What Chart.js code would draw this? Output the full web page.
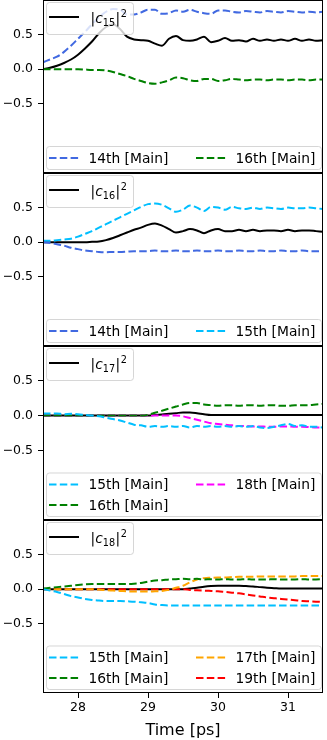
<!DOCTYPE html>
<html>
<head>
<meta charset="utf-8">
<script src="https://cdn.jsdelivr.net/npm/chart.js@4.4.1/dist/chart.umd.min.js"></script>
<style>
  body { margin: 0; background: #fff; width: 327px; height: 740px; position: relative; overflow: hidden; }
  canvas { position: absolute; left: 0; }
</style>
</head>
<body>
<canvas id="p1" width="327" height="173" style="top:0px"></canvas>
<canvas id="p2" width="327" height="173" style="top:173px"></canvas>
<canvas id="p3" width="327" height="174" style="top:346px"></canvas>
<canvas id="p4" width="327" height="220" style="top:520px"></canvas>
<script>
// time axis (ps)
const times = [27.5, 27.6, 27.7, 27.8, 27.9, 28.0, 28.1, 28.2, 28.3, 28.4,
  28.5, 28.6, 28.7, 28.8, 28.9, 29.0, 29.1, 29.2, 29.3, 29.4,
  29.5, 29.6, 29.7, 29.8, 29.9, 30.0, 30.1, 30.2, 30.3, 30.4,
  30.5, 30.6, 30.7, 30.8, 30.9, 31.0, 31.1, 31.2, 31.3, 31.4, 31.5];

const xTicks = [28, 29, 30, 31];
const yTicks = [-0.5, 0.0, 0.5];

// panel 1: |c15|^2
const c15 = [0.00, 0.02, 0.05, 0.09, 0.14, 0.21, 0.30, 0.40, 0.52, 0.61,
  0.65, 0.58, 0.47, 0.43, 0.42, 0.41, 0.37, 0.34, 0.44, 0.48,
  0.42, 0.41, 0.43, 0.47, 0.39, 0.41, 0.45, 0.41, 0.42, 0.40,
  0.44, 0.41, 0.43, 0.41, 0.43, 0.41, 0.44, 0.41, 0.43, 0.41, 0.42];
const p1_14th = [0.10, 0.14, 0.18, 0.25, 0.34, 0.44, 0.54, 0.65, 0.75, 0.83,
  0.87, 0.86, 0.79, 0.79, 0.82, 0.86, 0.86, 0.80, 0.81, 0.85,
  0.83, 0.86, 0.83, 0.81, 0.80, 0.85, 0.85, 0.83, 0.82, 0.84,
  0.83, 0.82, 0.84, 0.83, 0.82, 0.84, 0.83, 0.82, 0.83, 0.82, 0.83];
const p1_16th = [0.00, 0.00, 0.00, 0.00, 0.00, 0.00, -0.005, -0.01, -0.01, -0.02,
  -0.04, -0.07, -0.10, -0.14, -0.17, -0.20, -0.21, -0.19, -0.16, -0.12,
  -0.13, -0.16, -0.17, -0.14, -0.14, -0.17, -0.16, -0.14, -0.15, -0.16,
  -0.15, -0.15, -0.16, -0.15, -0.15, -0.16, -0.15, -0.15, -0.16, -0.15, -0.15];

// panel 2: |c16|^2
const c16 = [0.00, 0.00, 0.00, 0.00, 0.00, 0.00, 0.00, 0.005, 0.01, 0.03,
  0.06, 0.10, 0.14, 0.18, 0.21, 0.25, 0.27, 0.24, 0.19, 0.14,
  0.16, 0.19, 0.17, 0.13, 0.17, 0.19, 0.16, 0.16, 0.18, 0.16,
  0.18, 0.16, 0.17, 0.17, 0.16, 0.18, 0.16, 0.17, 0.17, 0.16, 0.15];
const p2_14th = [0.00, -0.01, -0.03, -0.05, -0.08, -0.10, -0.12, -0.13, -0.14, -0.145,
  -0.14, -0.14, -0.135, -0.13, -0.13, -0.13, -0.12, -0.13, -0.13, -0.12,
  -0.13, -0.13, -0.12, -0.13, -0.13, -0.12, -0.13, -0.13, -0.12, -0.13,
  -0.13, -0.12, -0.13, -0.13, -0.12, -0.13, -0.13, -0.12, -0.13, -0.13, -0.13];
const p2_15th = [0.02, 0.02, 0.03, 0.04, 0.05, 0.08, 0.12, 0.16, 0.21, 0.26,
  0.31, 0.36, 0.41, 0.46, 0.51, 0.55, 0.56, 0.54, 0.49, 0.44,
  0.47, 0.53, 0.50, 0.45, 0.51, 0.50, 0.47, 0.51, 0.49, 0.48,
  0.50, 0.48, 0.50, 0.49, 0.48, 0.50, 0.49, 0.49, 0.50, 0.49, 0.48];

// panel 3: |c17|^2
const c17 = [0.00, 0.00, 0.00, 0.00, 0.00, 0.00, 0.00, 0.00, 0.00, 0.00,
  0.00, 0.00, 0.00, 0.00, 0.00, 0.00, 0.01, 0.015, 0.025, 0.035,
  0.045, 0.045, 0.035, 0.02, 0.01, 0.01, 0.01, 0.01, 0.01, 0.01,
  0.01, 0.01, 0.01, 0.01, 0.01, 0.01, 0.01, 0.01, 0.01, 0.01, 0.01];
const p3_15th = [0.03, 0.03, 0.03, 0.02, 0.025, 0.02, 0.01, 0.00, -0.01, -0.03,
  -0.05, -0.07, -0.10, -0.13, -0.14, -0.16, -0.15, -0.16, -0.15, -0.16,
  -0.15, -0.17, -0.15, -0.16, -0.15, -0.16, -0.15, -0.16, -0.15, -0.16,
  -0.15, -0.17, -0.18, -0.16, -0.14, -0.12, -0.15, -0.14, -0.16, -0.16, -0.17];
const p3_16th = [0.00, 0.00, 0.00, 0.00, 0.00, 0.00, 0.00, 0.00, 0.00, 0.00,
  0.00, 0.00, 0.00, 0.00, 0.00, 0.01, 0.04, 0.07, 0.10, 0.13,
  0.16, 0.18, 0.18, 0.16, 0.15, 0.14, 0.15, 0.15, 0.14, 0.15,
  0.15, 0.14, 0.15, 0.15, 0.14, 0.14, 0.15, 0.15, 0.15, 0.16, 0.17];
const p3_18th = [0.00, 0.00, 0.00, 0.00, 0.00, 0.00, 0.00, 0.00, 0.00, 0.00,
  0.00, 0.00, 0.00, 0.00, 0.00, 0.00, 0.00, 0.00, 0.00, 0.00,
  -0.01, -0.035, -0.06, -0.085, -0.11, -0.12, -0.13, -0.14, -0.15, -0.15,
  -0.155, -0.155, -0.16, -0.16, -0.155, -0.155, -0.16, -0.16, -0.165, -0.17, -0.17];

// panel 4: |c18|^2
const c18 = [0.00, 0.00, 0.00, 0.00, 0.00, 0.00, 0.00, 0.00, 0.00, 0.00,
  0.00, 0.00, 0.00, 0.00, 0.00, 0.00, 0.00, 0.00, 0.00, 0.00,
  0.00, 0.01, 0.02, 0.035, 0.045, 0.05, 0.05, 0.05, 0.05, 0.045,
  0.04, 0.03, 0.02, 0.015, 0.01, 0.01, 0.01, 0.01, 0.01, 0.01, 0.01];
const p4_15th = [0.00, -0.02, -0.04, -0.07, -0.10, -0.12, -0.14, -0.155, -0.165, -0.17,
  -0.17, -0.17, -0.175, -0.18, -0.19, -0.20, -0.22, -0.23, -0.235, -0.235,
  -0.235, -0.235, -0.235, -0.235, -0.235, -0.235, -0.235, -0.235, -0.235, -0.235,
  -0.235, -0.235, -0.235, -0.235, -0.235, -0.235, -0.235, -0.235, -0.235, -0.235, -0.235];
const p4_16th = [0.01, 0.02, 0.03, 0.04, 0.05, 0.06, 0.07, 0.075, 0.075, 0.075,
  0.075, 0.075, 0.075, 0.08, 0.09, 0.11, 0.125, 0.13, 0.14, 0.145,
  0.15, 0.145, 0.15, 0.14, 0.145, 0.14, 0.145, 0.14, 0.14, 0.145,
  0.14, 0.14, 0.14, 0.145, 0.14, 0.14, 0.14, 0.145, 0.14, 0.14, 0.145];
const p4_17th = [0.00, 0.00, 0.00, 0.00, 0.00, 0.00, 0.00, 0.00, -0.005, -0.015,
  -0.02, -0.025, -0.03, -0.035, -0.035, -0.035, -0.03, -0.025, -0.01, 0.02,
  0.05, 0.10, 0.14, 0.16, 0.165, 0.17, 0.17, 0.175, 0.18, 0.18,
  0.18, 0.185, 0.185, 0.185, 0.185, 0.185, 0.185, 0.19, 0.19, 0.19, 0.19];
const p4_19th = [0.00, 0.00, 0.00, 0.00, 0.00, 0.00, 0.00, 0.00, 0.00, 0.00,
  0.00, 0.00, 0.00, 0.00, 0.00, 0.00, 0.00, 0.00, 0.00, 0.00,
  0.00, -0.01, -0.015, -0.02, -0.025, -0.03, -0.04, -0.05, -0.06, -0.075,
  -0.09, -0.105, -0.12, -0.13, -0.14, -0.15, -0.16, -0.17, -0.175, -0.18, -0.185];

const levelColors = {
  '14th [Main]': '#4169e1',
  '15th [Main]': '#00bfff',
  '16th [Main]': '#008000',
  '17th [Main]': '#ffa500',
  '18th [Main]': '#ff00ff',
  '19th [Main]': '#ff0000'
};

const panels = [
  { canvas: 'p1', state: 15, main: c15, levels: [['14th [Main]', p1_14th], ['16th [Main]', p1_16th]] },
  { canvas: 'p2', state: 16, main: c16, levels: [['14th [Main]', p2_14th], ['15th [Main]', p2_15th]] },
  { canvas: 'p3', state: 17, main: c17, levels: [['15th [Main]', p3_15th], ['16th [Main]', p3_16th], ['18th [Main]', p3_18th]] },
  { canvas: 'p4', state: 18, main: c18, levels: [['15th [Main]', p4_15th], ['16th [Main]', p4_16th], ['17th [Main]', p4_17th], ['19th [Main]', p4_19th]] }
];

const DASH = [7.5, 3.3];
const FONT = '"DejaVu Sans", sans-serif';
Chart.defaults.font.family = FONT;
Chart.defaults.color = '#000';

function toPoints(values) {
  return values.map((v, i) => ({ x: times[i], y: v }));
}

function legendBox(ctx, x, y, w, h) {
  ctx.save();
  ctx.beginPath();
  ctx.roundRect(x + 0.5, y + 0.5, w, h, 3);
  ctx.fillStyle = 'rgba(255,255,255,0.8)';
  ctx.fill();
  ctx.strokeStyle = 'rgba(204,204,204,0.8)';
  ctx.lineWidth = 1;
  ctx.stroke();
  ctx.restore();
}

function legendHandle(ctx, x, y, color, dash) {
  ctx.save();
  ctx.beginPath();
  ctx.setLineDash(dash);
  ctx.strokeStyle = color;
  ctx.lineWidth = 2;
  ctx.moveTo(x, y);
  ctx.lineTo(x + 30, y);
  ctx.stroke();
  ctx.restore();
}

// |c_n|^2 written the way mathtext sets it
function stateLabel(ctx, x, y, n) {
  ctx.save();
  ctx.fillStyle = '#000';
  ctx.textAlign = 'left';
  ctx.textBaseline = 'alphabetic';
  ctx.font = '13.8px ' + FONT;
  ctx.fillText('|', x, y);
  x += ctx.measureText('|').width;
  ctx.font = 'italic 13.8px ' + FONT;
  ctx.fillText('c', x, y);
  x += ctx.measureText('c').width;
  ctx.font = '9.7px ' + FONT;
  ctx.fillText(String(n), x, y + 2.5);
  x += ctx.measureText(String(n)).width + 0.5;
  ctx.font = '13.8px ' + FONT;
  ctx.fillText('|', x, y);
  x += ctx.measureText('|').width + 0.5;
  ctx.font = '9.7px ' + FONT;
  ctx.fillText('2', x, y - 6.5);
  ctx.restore();
}

const panelLegend = {
  id: 'panelLegend',
  afterDatasetsDraw(chart, args, opts) {
    const ctx = chart.ctx;
    const a = chart.chartArea;
    const top = a.top + 2;
    legendBox(ctx, 46, top, 87, 32);
    legendHandle(ctx, 49, top + 15, '#000', []);
    stateLabel(ctx, 90.5, top + 21, opts.state);

    const items = chart.data.datasets.filter(d => d.borderDash && d.borderDash.length);
    const rows = Math.ceil(items.length / 2);
    const h = 23 + (rows - 1) * 20.5;
    const by = a.bottom - 4 - h;
    legendBox(ctx, 46, by, 275, h);
    items.forEach((d, i) => {
      const col = Math.floor(i / rows);
      const row = i % rows;
      const y = by + 12 + row * 20.5;
      const x = col === 0 ? 49 : 196;
      legendHandle(ctx, x, y, d.borderColor, DASH);
      ctx.save();
      ctx.font = '13.8px ' + FONT;
      ctx.fillStyle = '#000';
      ctx.textAlign = 'left';
      ctx.textBaseline = 'middle';
      ctx.fillText(d.label, x + 39.5, y + 1);
      ctx.restore();
    });
  }
};

const frame = {
  id: 'frame',
  afterDraw(chart) {
    const ctx = chart.ctx;
    const a = chart.chartArea;
    ctx.save();
    ctx.strokeStyle = '#000';
    ctx.lineWidth = 1;
    ctx.strokeRect(a.left + 0.5, a.top + 0.5, a.right - a.left - 1, a.bottom - a.top - 1);
    ctx.restore();
  }
};

panels.forEach((p, idx) => {
  const last = idx === panels.length - 1;
  const datasets = p.levels.map(([label, vals]) => ({
    label: label,
    data: toPoints(vals),
    borderColor: levelColors[label],
    borderDash: DASH,
    borderWidth: 2,
    order: 0
  }));
  datasets.push({
    label: '|c' + p.state + '|²',
    data: toPoints(p.main),
    borderColor: '#000',
    borderWidth: 2,
    order: 1
  });

  new Chart(document.getElementById(p.canvas), {
    type: 'line',
    data: { datasets },
    options: {
      responsive: false,
      animation: false,
      devicePixelRatio: 1,
      layout: { padding: { left: 0, right: 4, top: 0, bottom: 0 } },
      elements: {
        point: { radius: 0 },
        line: { cubicInterpolationMode: 'monotone' }
      },
      plugins: {
        legend: { display: false },
        tooltip: { enabled: false },
        panelLegend: { state: p.state }
      },
      scales: {
        x: {
          type: 'linear',
          min: 27.5,
          max: 31.5,
          display: last,
          afterBuildTicks: s => { s.ticks = xTicks.map(v => ({ value: v })); },
          afterFit: s => { s.height = last ? 47 : 0; s.paddingLeft = 0; s.paddingRight = 0; },
          ticks: { font: { size: 12.5 }, color: '#000', padding: 2, maxRotation: 0, callback: v => String(v) },
          grid: { drawOnChartArea: false, drawTicks: true, tickLength: 5, color: '#000' },
          border: { display: false },
          title: { display: true, text: 'Time [ps]', color: '#000', font: { size: 16 }, padding: { top: 0, bottom: 0 } }
        },
        y: {
          min: -1.5,
          max: 1.0,
          afterBuildTicks: s => { s.ticks = yTicks.map(v => ({ value: v })); },
          afterFit: s => { s.width = 43; s.paddingTop = 0; s.paddingBottom = 0; },
          ticks: {
            font: { size: 12.5 },
            color: '#000',
            padding: 5,
            callback: v => (v < 0 ? '\u2212' : '') + Math.abs(v).toFixed(1)
          },
          grid: { drawOnChartArea: false, drawTicks: true, tickLength: 5, color: '#000' },
          border: { display: false }
        }
      }
    },
    plugins: [panelLegend, frame]
  });
});
</script>
</body>
</html>
